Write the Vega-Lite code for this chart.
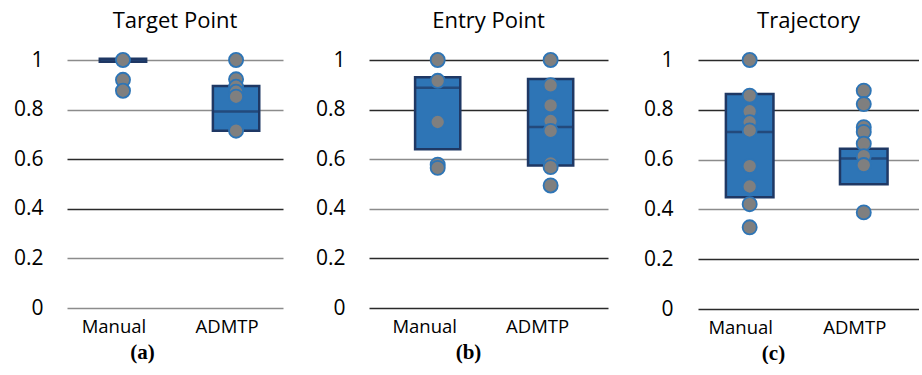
{
  "$schema": "https://vega.github.io/schema/vega-lite/v6.json",
  "padding": {"top": 10, "left": 0, "right": 0, "bottom": 0},
  "background": "white",
  "spacing": 10,
  "config": {
    "view": {"stroke": null},
    "font": "Open Sans",
    "axis": {"labelFont": "Open Sans", "labelColor": "#000", "domain": false, "ticks": false},
    "title": {"font": "Open Sans", "fontSize": 22, "fontWeight": "normal", "color": "#000", "baseline": "alphabetic", "offset": 16}
  },
  "datasets": {
    "pts": [
      {"panel": "Target Point", "group": "Manual", "value": 1.0},
      {"panel": "Target Point", "group": "Manual", "value": 0.92},
      {"panel": "Target Point", "group": "Manual", "value": 0.876},
      {"panel": "Target Point", "group": "ADMTP", "value": 1.0},
      {"panel": "Target Point", "group": "ADMTP", "value": 0.922},
      {"panel": "Target Point", "group": "ADMTP", "value": 0.892},
      {"panel": "Target Point", "group": "ADMTP", "value": 0.872},
      {"panel": "Target Point", "group": "ADMTP", "value": 0.852},
      {"panel": "Target Point", "group": "ADMTP", "value": 0.715},
      {"panel": "Entry Point", "group": "Manual", "value": 1.0},
      {"panel": "Entry Point", "group": "Manual", "value": 0.916},
      {"panel": "Entry Point", "group": "Manual", "value": 0.75},
      {"panel": "Entry Point", "group": "Manual", "value": 0.578},
      {"panel": "Entry Point", "group": "Manual", "value": 0.565},
      {"panel": "Entry Point", "group": "ADMTP", "value": 1.0},
      {"panel": "Entry Point", "group": "ADMTP", "value": 0.898},
      {"panel": "Entry Point", "group": "ADMTP", "value": 0.817},
      {"panel": "Entry Point", "group": "ADMTP", "value": 0.754},
      {"panel": "Entry Point", "group": "ADMTP", "value": 0.714},
      {"panel": "Entry Point", "group": "ADMTP", "value": 0.583},
      {"panel": "Entry Point", "group": "ADMTP", "value": 0.568},
      {"panel": "Entry Point", "group": "ADMTP", "value": 0.494},
      {"panel": "Trajectory", "group": "Manual", "value": 1.0},
      {"panel": "Trajectory", "group": "Manual", "value": 0.857},
      {"panel": "Trajectory", "group": "Manual", "value": 0.794},
      {"panel": "Trajectory", "group": "Manual", "value": 0.75},
      {"panel": "Trajectory", "group": "Manual", "value": 0.717},
      {"panel": "Trajectory", "group": "Manual", "value": 0.574},
      {"panel": "Trajectory", "group": "Manual", "value": 0.492},
      {"panel": "Trajectory", "group": "Manual", "value": 0.421},
      {"panel": "Trajectory", "group": "Manual", "value": 0.328},
      {"panel": "Trajectory", "group": "ADMTP", "value": 0.877},
      {"panel": "Trajectory", "group": "ADMTP", "value": 0.823},
      {"panel": "Trajectory", "group": "ADMTP", "value": 0.73},
      {"panel": "Trajectory", "group": "ADMTP", "value": 0.711},
      {"panel": "Trajectory", "group": "ADMTP", "value": 0.664},
      {"panel": "Trajectory", "group": "ADMTP", "value": 0.614},
      {"panel": "Trajectory", "group": "ADMTP", "value": 0.578},
      {"panel": "Trajectory", "group": "ADMTP", "value": 0.388}
    ],
    "box": [
      {"panel": "Target Point", "group": "Manual", "q1": 0.993, "median": 1.0, "q3": 1.005},
      {"panel": "Target Point", "group": "ADMTP", "q1": 0.715, "median": 0.792, "q3": 0.895},
      {"panel": "Entry Point", "group": "Manual", "q1": 0.64, "median": 0.888, "q3": 0.93},
      {"panel": "Entry Point", "group": "ADMTP", "q1": 0.575, "median": 0.73, "q3": 0.923},
      {"panel": "Trajectory", "group": "Manual", "q1": 0.449, "median": 0.711, "q3": 0.863},
      {"panel": "Trajectory", "group": "ADMTP", "q1": 0.501, "median": 0.604, "q3": 0.644}
    ]
  },
  "hconcat": [
    {
      "width": 216, "height": 248,
      "title": {"text": "Target Point"},
      "encoding": {
        "x": {"field": "group", "type": "nominal", "sort": ["Manual", "ADMTP"],
              "scale": {"paddingInner": 0.59, "paddingOuter": 0.25, "align": 0.58},
              "axis": {"title": "(a)", "labelAngle": 0, "labelFontSize": 18.5, "labelPadding": 9, "labelOffset": -9,
                       "titleFont": "Liberation Serif", "titleFontWeight": "bold", "titleFontSize": 21, "titleX": 75, "titlePadding": 6}}
      },
      "layer": [
        {"data": {"name": "box"}, "transform": [{"filter": "datum.panel === 'Target Point'"}],
         "mark": {"type": "bar", "fill": "#2e75b6", "stroke": "#1f3864", "strokeWidth": 2.5},
         "encoding": {
           "y": {"field": "q1", "type": "quantitative", "scale": {"domain": [0, 1]},
                 "axis": {"title": null, "values": [0, 0.2, 0.4, 0.6, 0.8, 1], "format": "~g", "labelFontSize": 21, "labelPadding": 24,
                          "minExtent": 67, "maxExtent": 67, "gridWidth": 1.5,
                          "gridColor": {"condition": {"test": "datum.value > 0.3 && datum.value < 0.7", "value": "#2a2a2a"}, "value": "#8c8c8c"}}},
           "y2": {"field": "q3"}
         }},
        {"data": {"name": "box"}, "transform": [{"filter": "datum.panel === 'Target Point'"}],
         "mark": {"type": "tick", "orient": "horizontal", "color": "#1f3864", "thickness": 2.5, "size": 46},
         "encoding": {"y": {"field": "median", "type": "quantitative", "title": null}}},
        {"data": {"name": "pts"}, "transform": [{"filter": "datum.panel === 'Target Point'"}],
         "mark": {"type": "circle", "size": 200, "fill": "#7f7f7f", "stroke": "#2e75b6", "strokeWidth": 1.8, "opacity": 1},
         "encoding": {"y": {"field": "value", "type": "quantitative", "title": null}}}
      ]
    },
    {
      "width": 239, "height": 248,
      "title": {"text": "Entry Point"},
      "encoding": {
        "x": {"field": "group", "type": "nominal", "sort": ["Manual", "ADMTP"],
              "scale": {"paddingInner": 0.6, "paddingOuter": 0.358, "align": 0.57},
              "axis": {"title": "(b)", "labelAngle": 0, "labelFontSize": 18.5, "labelPadding": 9, "labelOffset": -13,
                       "titleFont": "Liberation Serif", "titleFontWeight": "bold", "titleFontSize": 21, "titleX": 99, "titlePadding": 6}}
      },
      "layer": [
        {"data": {"name": "box"}, "transform": [{"filter": "datum.panel === 'Entry Point'"}],
         "mark": {"type": "bar", "fill": "#2e75b6", "stroke": "#1f3864", "strokeWidth": 2.5},
         "encoding": {
           "y": {"field": "q1", "type": "quantitative", "scale": {"domain": [0, 1]},
                 "axis": {"title": null, "values": [0, 0.2, 0.4, 0.6, 0.8, 1], "format": "~g", "labelFontSize": 21, "labelPadding": 24,
                          "minExtent": 76, "maxExtent": 76, "gridWidth": 1.5,
                          "gridColor": {"condition": {"test": "datum.value > 0.3 && datum.value < 0.7", "value": "#8c8c8c"}, "value": "#2a2a2a"}}},
           "y2": {"field": "q3"}
         }},
        {"data": {"name": "box"}, "transform": [{"filter": "datum.panel === 'Entry Point'"}],
         "mark": {"type": "tick", "orient": "horizontal", "color": "#1f3864", "thickness": 2.5, "size": 45},
         "encoding": {"y": {"field": "median", "type": "quantitative", "title": null}}},
        {"data": {"name": "pts"}, "transform": [{"filter": "datum.panel === 'Entry Point'"}],
         "mark": {"type": "circle", "size": 200, "fill": "#7f7f7f", "stroke": "#2e75b6", "strokeWidth": 1.8, "opacity": 1},
         "encoding": {"y": {"field": "value", "type": "quantitative", "title": null}}}
      ]
    },
    {
      "width": 221, "height": 249,
      "title": {"text": "Trajectory"},
      "encoding": {
        "x": {"field": "group", "type": "nominal", "sort": ["Manual", "ADMTP"],
              "scale": {"paddingInner": 0.583, "paddingOuter": 0.26, "align": 0.47},
              "axis": {"title": "(c)", "labelAngle": 0, "labelFontSize": 18.5, "labelPadding": 9, "labelOffset": -9,
                       "titleFont": "Liberation Serif", "titleFontWeight": "bold", "titleFontSize": 21, "titleX": 75, "titlePadding": 6}}
      },
      "layer": [
        {"data": {"name": "box"}, "transform": [{"filter": "datum.panel === 'Trajectory'"}],
         "mark": {"type": "bar", "fill": "#2e75b6", "stroke": "#1f3864", "strokeWidth": 2.5},
         "encoding": {
           "y": {"field": "q1", "type": "quantitative", "scale": {"domain": [0, 1]},
                 "axis": {"title": null, "values": [0, 0.2, 0.4, 0.6, 0.8, 1], "format": "~g", "labelFontSize": 21, "labelPadding": 25,
                          "minExtent": 80, "maxExtent": 80, "gridWidth": 1.5,
                          "gridColor": {"condition": {"test": "datum.value > 0.3 && datum.value < 0.7", "value": "#8c8c8c"}, "value": "#2a2a2a"}}},
           "y2": {"field": "q3"}
         }},
        {"data": {"name": "box"}, "transform": [{"filter": "datum.panel === 'Trajectory'"}],
         "mark": {"type": "tick", "orient": "horizontal", "color": "#1f3864", "thickness": 2.5, "size": 47.5},
         "encoding": {"y": {"field": "median", "type": "quantitative", "title": null}}},
        {"data": {"name": "pts"}, "transform": [{"filter": "datum.panel === 'Trajectory'"}],
         "mark": {"type": "circle", "size": 200, "fill": "#7f7f7f", "stroke": "#2e75b6", "strokeWidth": 1.8, "opacity": 1},
         "encoding": {"y": {"field": "value", "type": "quantitative", "title": null}}}
      ]
    }
  ]
}
